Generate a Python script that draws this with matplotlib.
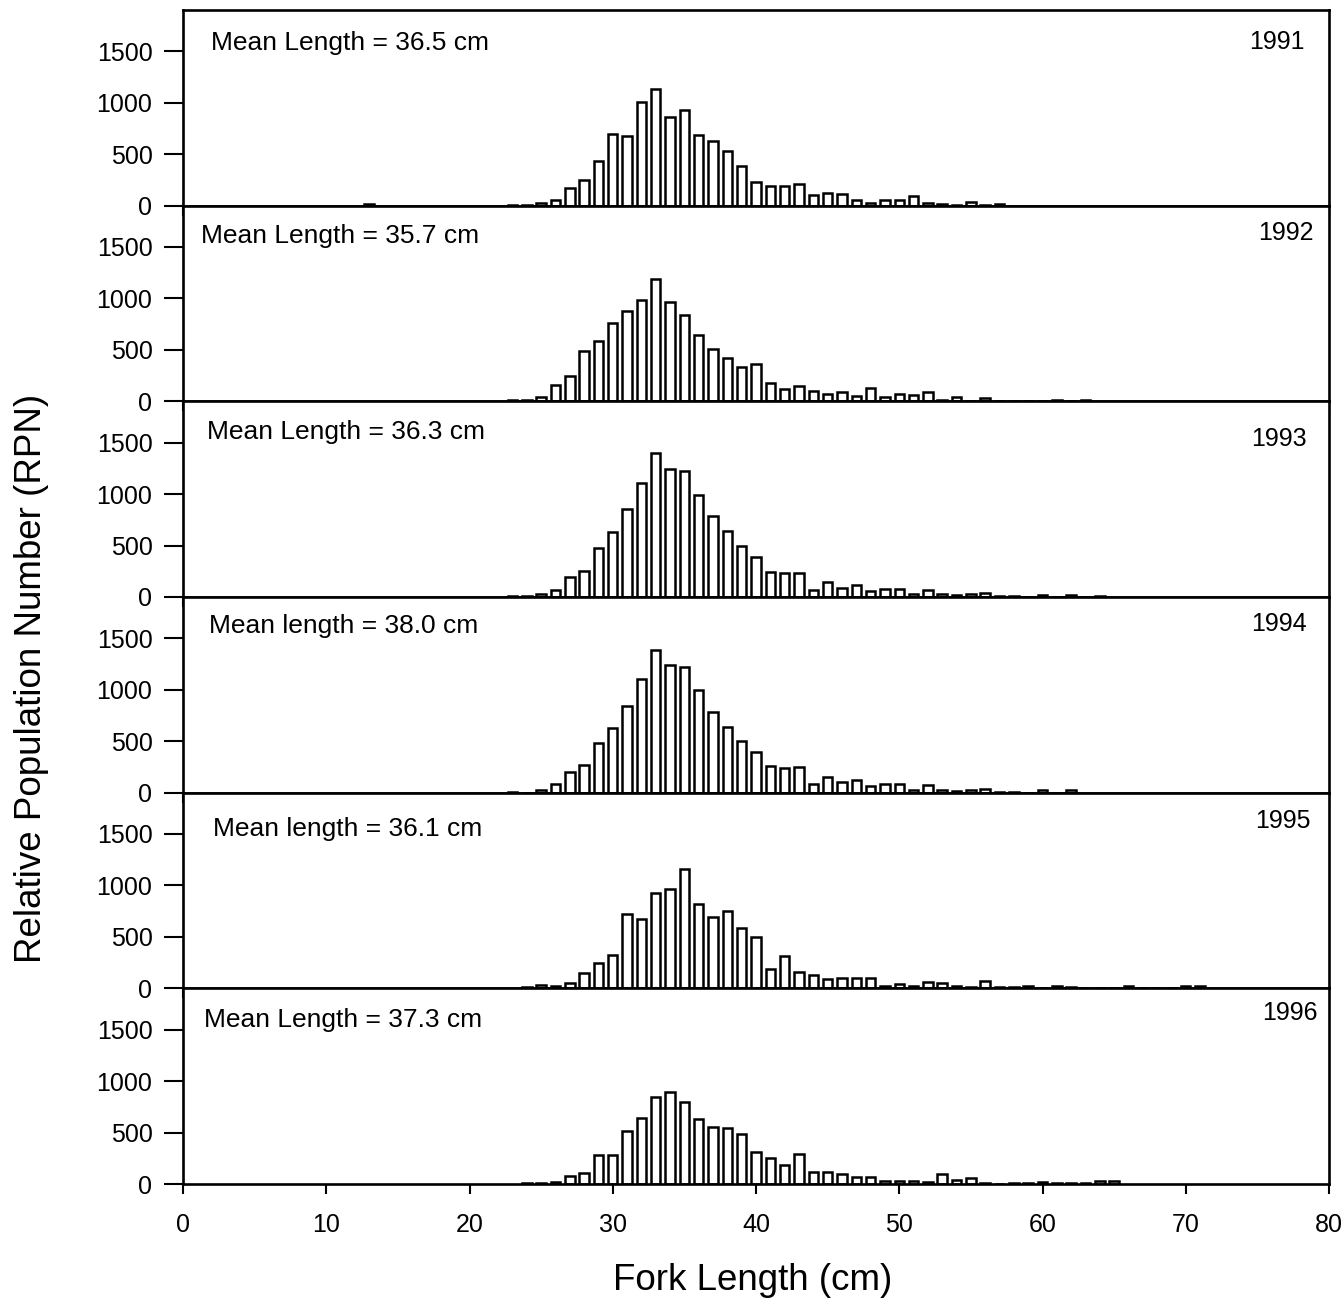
import numpy as np
import matplotlib
matplotlib.use("Agg")
import matplotlib.pyplot as plt

plt.rcParams['font.family'] = ['Liberation Sans', 'DejaVu Sans']

# Relative population number by 1-cm fork length bin
years = ["1991", "1992", "1993", "1994", "1995", "1996"]
mean_labels = [
    "Mean Length = 36.5 cm",
    "Mean Length = 35.7 cm",
    "Mean Length = 36.3 cm",
    "Mean length = 38.0 cm",
    "Mean length = 36.1 cm",
    "Mean Length = 37.3 cm",
]

len_1991 = [13] + list(range(23, 58))
rpn_1991 = [15,
            8, 8, 30, 55, 170, 250, 435, 700, 675, 1010, 1130, 860, 930, 685,
            630, 530, 385, 230, 195, 195, 210, 100, 120, 110, 55, 25, 55, 55,
            90, 30, 20, 5, 35, 5, 15]

len_1992 = list(range(23, 64))
rpn_1992 = [10, 10, 40, 155, 245, 490, 590, 765, 880, 985, 1190, 965, 840,
            645, 505, 425, 330, 360, 180, 115, 150, 100, 75, 90, 55, 125, 40,
            70, 60, 90, 10, 40, 5, 30, 5, 0, 0, 5, 15, 5, 10]

len_1993 = list(range(23, 65))
rpn_1993 = [10, 5, 25, 70, 195, 250, 475, 630, 855, 1105, 1394, 1240, 1220,
            995, 790, 645, 495, 390, 245, 230, 235, 70, 145, 90, 115, 55, 75,
            80, 25, 65, 25, 15, 25, 35, 10, 10, 0, 20, 0, 20, 0, 8]

len_1994 = list(range(23, 63))
rpn_1994 = [10, 0, 30, 80, 200, 265, 485, 630, 845, 1100, 1390, 1240, 1220,
            995, 780, 640, 500, 395, 260, 240, 245, 80, 155, 100, 120, 65, 80,
            80, 25, 70, 30, 15, 30, 35, 8, 10, 0, 25, 0, 25]

len_1995 = list(range(24, 72))
rpn_1995 = [10, 35, 25, 50, 150, 245, 325, 725, 675, 925, 965, 1160, 820, 690,
            755, 585, 500, 190, 310, 160, 125, 90, 100, 105, 105, 20, 40, 20,
            60, 55, 25, 15, 70, 10, 10, 20, 0, 25, 15, 0, 0, 0, 20, 0, 0, 0,
            25, 25]

len_1996 = list(range(24, 66))
rpn_1996 = [5, 10, 15, 75, 105, 285, 285, 515, 640, 840, 890, 800, 635, 555,
            545, 490, 315, 250, 180, 290, 115, 120, 95, 65, 70, 25, 30, 25, 15,
            95, 35, 55, 10, 0, 10, 10, 15, 8, 8, 10, 25, 30]

lengths = [len_1991, len_1992, len_1993, len_1994, len_1995, len_1996]
values = [rpn_1991, rpn_1992, rpn_1993, rpn_1994, rpn_1995, rpn_1996]

# label placement per panel (axes fraction), scan is a bit uneven
text_pos = [(0.024, 0.83), (0.016, 0.845), (0.021, 0.845),
            (0.023, 0.85), (0.026, 0.815), (0.018, 0.84)]
year_pos = [(0.979, 0.835), (0.987, 0.86), (0.981, 0.81),
            (0.981, 0.86), (0.984, 0.855), (0.99, 0.875)]

fig = plt.figure(figsize=(13.43, 13.03), dpi=100)
left, right = 183 / 1343, 1329 / 1343
top, bottom = 1 - 10 / 1303, 1 - 1184 / 1303
h = (top - bottom) / 6

axes = []
for i in range(6):
    ax = fig.add_axes([left, top - (i + 1) * h, right - left, h])
    axes.append(ax)
    ax.bar(lengths[i], values[i], width=0.66, color='white',
           edgecolor='black', linewidth=1.8)
    ax.set_xlim(0, 80)
    ax.set_ylim(0, 1900)
    ax.set_yticks([0, 500, 1000, 1500])
    ax.set_xticks(np.arange(0, 81, 10))
    ax.tick_params(axis='y', direction='out', length=14, width=1.5,
                   pad=8, labelsize=18)
    ax.tick_params(axis='x', direction='out', length=7, width=1.5,
                   pad=14, labelsize=18)
    for s in ax.spines.values():
        s.set_linewidth(1.9)
    if i < 5:
        ax.tick_params(axis='x', labelbottom=False)
    ax.text(text_pos[i][0], text_pos[i][1], mean_labels[i],
            transform=ax.transAxes, fontsize=19, ha='left', va='center')
    ax.text(year_pos[i][0], year_pos[i][1], years[i],
            transform=ax.transAxes, fontsize=18, ha='right', va='center')

fig.text(753 / 1343, 1 - 1281 / 1303, "Fork Length (cm)", fontsize=26.5,
         ha='center', va='center')
fig.text(32 / 1343, 1 - 678 / 1303, "Relative Population Number (RPN)",
         fontsize=26.5, rotation=90, ha='center', va='center')

fig.savefig("out.png", dpi=100)
